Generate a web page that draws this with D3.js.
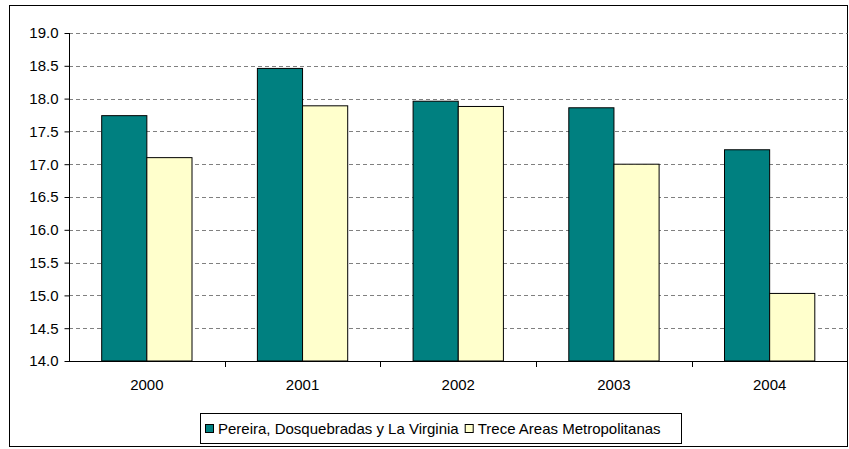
<!DOCTYPE html>
<html>
<head>
<meta charset="utf-8">
<script src="https://cdn.jsdelivr.net/npm/d3@7"></script>
<style>
  body { margin: 0; background: #fff; }
  svg text { font-family: "Liberation Sans", Arial, sans-serif; fill: #000; }
</style>
</head>
<body>
<div id="chart"></div>
<script>
// ----------------------------
// Data
// ----------------------------
var years = ["2000", "2001", "2002", "2003", "2004"];
var seriesNames = ["Pereira, Dosquebradas y La Virginia", "Trece Areas Metropolitanas"];
var pereira = [17.74, 18.46, 17.96, 17.86, 17.22];
var trece = [17.10, 17.89, 17.88, 17.00, 15.03];
var yTicks = [14.0, 14.5, 15.0, 15.5, 16.0, 16.5, 17.0, 17.5, 18.0, 18.5, 19.0];
var seriesColors = ["#008080", "#FFFFCC"];

// ----------------------------
// Sizing
// ----------------------------
var Vis = {};
Vis.width = 849;
Vis.height = 449;
Vis.plot = { left: 69, right: 847.5, top: 33, bottom: 361 };
Vis.fontSize = "15px";

Vis.rows = years.map((y, i) => ({ year: y, values: [pereira[i], trece[i]] }));

// ----------------------------
// Scales
// ----------------------------
Vis.x = d3.scaleBand()
  .domain(years)
  .range([Vis.plot.left, Vis.plot.right])
  .padding(0);

Vis.x1 = d3.scaleBand()
  .domain([0, 1])
  .range([Vis.x.bandwidth() * 0.21, Vis.x.bandwidth() * 0.79]);

Vis.y = d3.scaleLinear()
  .domain([14, 19])
  .range([Vis.plot.bottom, Vis.plot.top]);

Vis.svg = d3.select("#chart").append("svg")
  .attr("width", Vis.width)
  .attr("height", Vis.height);

// outer chart border
Vis.svg.append("rect")
  .attr("x", 9.5).attr("y", 5.5)
  .attr("width", 838).attr("height", 441)
  .attr("fill", "#fff")
  .attr("stroke", "#000")
  .attr("stroke-width", 1);

// ----------------------------
// Gridlines
// ----------------------------
Vis.svg.append("g")
  .selectAll("line")
  .data(yTicks.slice(1))
  .enter()
  .append("line")
  .attr("x1", Vis.plot.left)
  .attr("x2", Vis.plot.right)
  .attr("y1", d => Math.round(Vis.y(d)) + 0.5)
  .attr("y2", d => Math.round(Vis.y(d)) + 0.5)
  .attr("stroke", "#808080")
  .attr("stroke-width", 1)
  .attr("stroke-dasharray", "4,3");

// ----------------------------
// Bars
// ----------------------------
Vis.groups = Vis.svg.append("g")
  .selectAll("g")
  .data(Vis.rows)
  .enter()
  .append("g")
  .attr("transform", d => `translate(${Vis.x(d.year)},0)`);

Vis.groups.selectAll("rect")
  .data(d => d.values.map((v, i) => ({ v: v, i: i })))
  .enter()
  .append("rect")
  .attr("x", d => Vis.x1(d.i))
  .attr("y", d => Vis.y(d.v))
  .attr("width", Vis.x1.bandwidth())
  .attr("height", d => Vis.y(14) - Vis.y(d.v))
  .attr("fill", d => seriesColors[d.i])
  .attr("stroke", "#000")
  .attr("stroke-width", 1);

// ----------------------------
// Axes
// ----------------------------
Vis.yAxis = Vis.svg.append("g")
  .attr("transform", `translate(${Vis.plot.left + 0.5},0)`)
  .call(d3.axisLeft(Vis.y).tickValues(yTicks).tickFormat(d3.format(".1f")).tickSize(5).tickPadding(6));

Vis.xAxis = Vis.svg.append("g")
  .attr("transform", `translate(0,${Vis.plot.bottom + 0.5})`)
  .call(d3.axisBottom(Vis.x).tickSize(0).tickPadding(18));

// category separator ticks between bands
Vis.svg.append("g")
  .selectAll("line")
  .data(years.slice(1))
  .enter()
  .append("line")
  .attr("x1", d => Math.round(Vis.x(d)) + 0.5)
  .attr("x2", d => Math.round(Vis.x(d)) + 0.5)
  .attr("y1", Vis.plot.bottom)
  .attr("y2", Vis.plot.bottom + 6)
  .attr("stroke", "#000");

[Vis.yAxis, Vis.xAxis].forEach(function(ax) {
  ax.attr("font-size", null).attr("font-family", null);
  ax.select(".domain").attr("stroke", "#000");
  ax.selectAll(".tick line").attr("stroke", "#000");
  ax.selectAll("text").style("font-size", Vis.fontSize).attr("fill", "#000");
});
Vis.yAxis.select(".domain").attr("d", `M0,${Vis.plot.top}V${Vis.plot.bottom}`);
Vis.xAxis.select(".domain").attr("d", `M${Vis.plot.left},0H${Vis.plot.right}`);

// ----------------------------
// Legend
// ----------------------------
Vis.legend = Vis.svg.append("g");
Vis.legend.append("rect")
  .attr("x", 200.5).attr("y", 413.5)
  .attr("width", 481).attr("height", 30)
  .attr("fill", "#fff")
  .attr("stroke", "#000");

var lx = 205;
seriesNames.forEach(function(name, i) {
  var item = Vis.legend.append("g").attr("transform", `translate(${lx},0)`);
  item.append("rect")
    .attr("x", 0.5).attr("y", 424.5)
    .attr("width", 8).attr("height", 8)
    .attr("fill", seriesColors[i])
    .attr("stroke", "#000");
  var t = item.append("text")
    .attr("x", 13)
    .attr("y", 434)
    .style("font-size", Vis.fontSize)
    .text(name);
  lx += 13 + t.node().getComputedTextLength() + 6;
});
</script>
</body>
</html>
